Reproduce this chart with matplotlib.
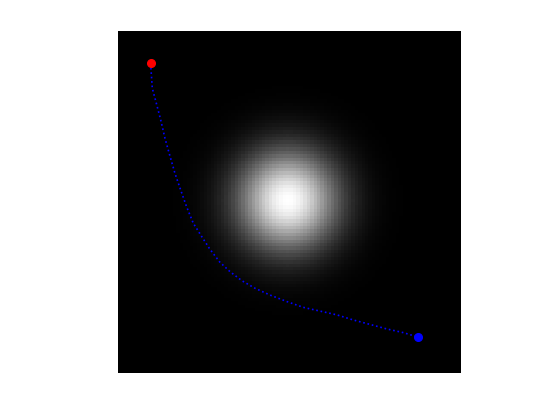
import numpy as np
import matplotlib
matplotlib.use("Agg")
import matplotlib.pyplot as plt

# Image grid and Gaussian blob parameters
grid_size = 100
blob_center = (50, 50)
blob_sigma = 10.0

# Path waypoints (data coords)
path_x = [10, 10.5, 11.8, 12.95, 14.2, 15.7, 17.1, 18.6, 20.5, 22.45, 24.9, 27.3,
          30.2, 33.2, 36.6, 40.4, 44.8, 49.7, 54.5, 59.4, 64.3, 69.1, 74.0, 78.8,
          83.7, 88]
path_y = [10, 17.25, 22.1, 26.5, 31.9, 37.25, 42.1, 46.5, 51.9, 56.7, 60.6, 64.3,
          68.1, 70.9, 73.5, 75.7, 77.7, 79.6, 81.3, 82.4, 83.5, 85.0, 86.3, 87.6,
          88.7, 90]
start_pt = (10, 10)
end_pt = (88, 90)

cols = np.arange(1, grid_size + 1)
X, Y = np.meshgrid(cols, cols)
img = np.exp(-((X - blob_center[0]) ** 2 + (Y - blob_center[1]) ** 2) / (2 * blob_sigma ** 2))

fig = plt.figure(figsize=(5.59, 4.19), dpi=100)
ax = fig.add_axes([118 / 559, (419 - 373) / 419, 343 / 559, 342 / 419])
ax.imshow(img, cmap="gray", vmin=0, vmax=1, interpolation="nearest",
          extent=(0.5, grid_size + 0.5, grid_size + 0.5, 0.5), aspect="auto")
ax.plot(path_x, path_y, color="blue", linestyle=":", linewidth=1.2)
ax.plot([start_pt[0]], [start_pt[1]], "o", color="red", markersize=5.5)
ax.plot([end_pt[0]], [end_pt[1]], "o", color="blue", markersize=5.5)
ax.set_xlim(0.5, grid_size + 0.5)
ax.set_ylim(grid_size + 0.5, 0.5)
ax.axis("off")
fig.savefig("out.png", dpi=100)
